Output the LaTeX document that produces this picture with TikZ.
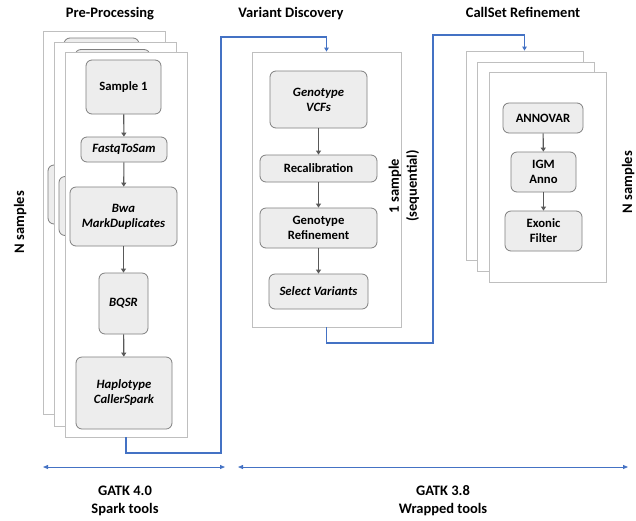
\documentclass[tikz,border=0pt]{standalone}
\usepackage{fontspec}
\setmainfont{Carlito}
\usetikzlibrary{arrows.meta}
\definecolor{flowblue}{HTML}{4472C4}
\definecolor{boxfill}{HTML}{EDEDED}
\definecolor{boxline}{HTML}{7F7F7F}
\definecolor{pageline}{HTML}{BFBFBF}
\definecolor{steparrow}{HTML}{595959}

\tikzset{
  page/.style={rectangle,draw=pageline,fill=white,line width=0.8pt,inner sep=0pt,minimum width=122pt},
  box/.style={rectangle,rounded corners=6pt,draw=boxline,fill=boxfill,line width=0.8pt,align=center,inner sep=0pt,font=\fontsize{12.7}{15}\selectfont\bfseries},
  tool/.style={box,font=\fontsize{12.7}{15}\selectfont\bfseries\itshape},
  link/.style={draw=steparrow,line width=1.1pt,-{Triangle[length=4pt,width=5pt]}},
  flow/.style={draw=flowblue,line width=1.3pt,-{Triangle[length=4pt,width=4.5pt]}},
  span/.style={draw=flowblue,line width=0.8pt,{Triangle[length=5pt,width=4pt]}-{Triangle[length=5pt,width=4pt]}},
  title/.style={font=\fontsize{14.5}{18}\selectfont\bfseries,align=center,inner sep=0pt},
}

\begin{document}
\begin{tikzpicture}[x=1pt,y=-1pt]
\useasboundingbox (0,0) rectangle (636,520);

% titles
\node[title,anchor=base] (tpp) at (110,17) {Pre-Processing};
\node[title,anchor=base] (tvd) at (291,17) {Variant Discovery};
\node[title,anchor=base] (tcs) at (523,17) {CallSet Refinement};

% pre-processing, N samples
\node[page,minimum height=383pt] (pp1) at (104,222.5) {};
\node[box,minimum width=75pt,minimum height=54pt] (smp1) at (101.5,65) {};
\node[box,minimum width=107pt,minimum height=59pt] (bwa1) at (101.5,194.5) {};
\node[page,minimum height=384pt] (pp2) at (115,234) {};
\node[box,minimum width=75pt,minimum height=54pt] (smp2) at (112.5,76.5) {};
\node[box,minimum width=107pt,minimum height=59pt] (bwa2) at (112.5,206) {};
\node[page,minimum height=385pt] (pp3) at (126,244.5) {};

\node[box,minimum width=75pt,minimum height=54pt] (smp) at (123.5,87) {Sample 1};
\node[tool,minimum width=86pt,minimum height=25pt] (fts) at (124,149.5) {FastqToSam};
\node[tool,minimum width=107pt,minimum height=59pt] (bwa) at (123.5,216.5) {Bwa\\MarkDuplicates};
\node[tool,minimum width=49pt,minimum height=61pt] (bqsr) at (123.5,303.5) {BQSR};
\node[tool,minimum width=96pt,minimum height=72pt] (hap) at (124,393) {Haplotype\\CallerSpark};

\draw[link] (smp)--(fts);
\draw[link] (fts)--(bwa);
\draw[link] (bwa)--(bqsr);
\draw[link] (bqsr)--(hap);

\node[title,rotate=90,anchor=base] (nsl) at (24,222) {N samples};

% variant discovery, 1 sample
\node[page,minimum width=149pt,minimum height=275pt] (vd) at (326.5,189.5) {};
\node[tool,minimum width=97pt,minimum height=57pt] (gvcf) at (318.5,99.5) {Genotype\\VCFs};
\node[box,minimum width=117pt,minimum height=27pt] (recal) at (318.5,168.5) {Recalibration};
\node[box,minimum width=117pt,minimum height=40pt] (gref) at (318.5,228) {Genotype\\Refinement};
\node[tool,minimum width=99pt,minimum height=35pt] (selv) at (318.5,291.5) {Select Variants};

\draw[link] (gvcf)--(recal);
\draw[link] (recal)--(gref);
\draw[link] (gref)--(selv);

\node[title,rotate=90] (seq) at (404,186) {1 sample\\(sequential)};

% callset refinement, N samples
\node[page,minimum width=117pt,minimum height=209pt] (cs1) at (524.5,155.5) {};
\node[page,minimum width=117pt,minimum height=209pt] (cs2) at (535.5,166.5) {};
\node[page,minimum width=117pt,minimum height=210pt] (cs3) at (547.5,177) {};
\node[box,minimum width=80pt,minimum height=30pt] (anv) at (543,118) {ANNOVAR};
\node[box,minimum width=65pt,minimum height=40pt] (igm) at (543.5,172) {IGM\\Anno};
\node[box,minimum width=77pt,minimum height=40pt] (exf) at (543.5,231) {Exonic\\Filter};

\draw[link] (anv)--(igm);
\draw[link] (igm)--(exf);

\node[title,rotate=90,anchor=base] (nsr) at (632,182) {N samples};

% blue connectors
\coordinate (c1a) at (221,453);
\coordinate (c1b) at (221,37);
\coordinate (c2a) at (433,343);
\coordinate (c2b) at (433,35);
\draw[flow] (pp3.south) |- (c1a) -- (c1b) -| (vd.north);
\draw[flow] (vd.south) |- (c2a) -- (c2b) -| (cs1.north);

% tool ranges
\coordinate (g4l) at (43,467);
\coordinate (g4r) at (225,467);
\coordinate (g3l) at (238,467);
\coordinate (g3r) at (628,467);
\draw[span] (g4l) -- (g4r);
\draw[span] (g3l) -- (g3r);
\node[title,anchor=base] (gatk4) at (125,513) {GATK 4.0\\Spark tools};
\node[title,anchor=base] (gatk3) at (443,513) {GATK 3.8\\Wrapped tools};
\end{tikzpicture}
\end{document}
